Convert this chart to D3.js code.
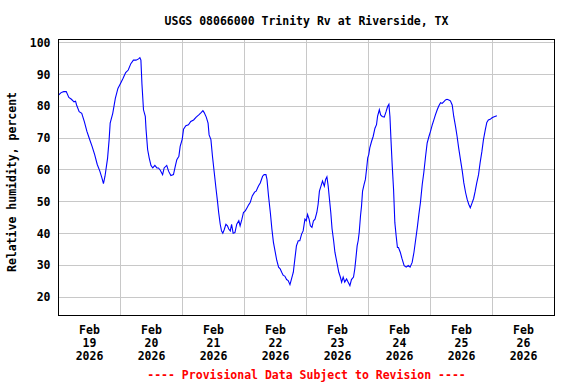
<!DOCTYPE html>
<html>
<head>
<meta charset="utf-8">
<script src="https://cdn.jsdelivr.net/npm/d3@7"></script>
<style>
  body { margin: 0; background: #fff; }
  text { font-family: "DejaVu Sans Mono", monospace; font-weight: bold; font-size: 11.5px; }
</style>
</head>
<body>
<div id="wrapper"></div>
<script>
// hours after Feb 19 2026 00:00 and the reading at that time
const hours = [0, 1, 2, 3, 4, 5, 6, 6.6, 7, 8, 9, 10, 11, 12, 13, 14, 15, 16, 16.8, 17.4, 18, 19, 19.6, 20, 21, 22, 23, 24, 25, 26, 27, 28, 29, 30, 31, 31.5, 31.9, 32.3, 32.9, 33.6, 33.9, 34.5, 35.1, 35.8, 36.5, 37.3, 38.1, 38.7, 39.4, 40.3, 40.9, 41.9, 42.6, 43.5, 44.5, 45.2, 45.8, 46.6, 47.1, 47.9, 48.4, 49.3, 50.3, 51.2, 52.3, 53.3, 54.3, 55.2, 55.9, 56.4, 57.2, 57.9, 58.3, 59, 59.6, 60.3, 61, 61.6, 62, 62.6, 63.1, 63.6, 64.1, 64.8, 65.4, 65.9, 66.5, 67, 67.6, 68.3, 69, 69.8, 70.3, 71, 71.6, 72.3, 73, 73.6, 74.2, 75, 75.9, 76.5, 77.4, 78.1, 79, 79.6, 80.3, 80.7, 81.3, 82, 82.6, 83.2, 83.9, 84.5, 85.2, 85.8, 86.4, 87, 87.6, 88.3, 88.9, 89.6, 90.2, 90.9, 91.5, 92.1, 92.8, 93.4, 94.1, 94.7, 95.4, 95.9, 96.4, 97, 97.5, 98.1, 98.7, 99.3, 100, 100.5, 101, 101.6, 102.2, 102.9, 103.4, 103.9, 104.4, 104.9, 105.4, 105.9, 106.5, 107, 107.5, 108, 108.5, 109.1, 109.6, 110.2, 110.8, 111.5, 112.1, 112.8, 113.4, 114.2, 114.7, 115.1, 115.6, 116, 116.4, 116.9, 117.3, 117.7, 118.3, 118.8, 119.3, 119.7, 120.1, 120.5, 121.2, 121.8, 122.5, 123.1, 123.5, 124.2, 124.7, 125.3, 126.1, 126.8, 127.4, 127.9, 128.3, 128.7, 129.2, 129.7, 130.2, 130.7, 131.2, 131.6, 132.3, 133, 133.8, 134.6, 135.4, 136.1, 136.9, 137.6, 138.2, 138.9, 139.5, 140.1, 140.8, 141.4, 142.1, 142.7, 143.4, 144, 144.7, 145.3, 145.9, 146.6, 147.2, 147.9, 148.5, 149.2, 149.8, 150.4, 151.1, 151.7, 152.4, 153, 153.7, 154.3, 154.9, 155.6, 156.3, 156.9, 157.6, 158.2, 158.8, 159.4, 160, 160.7, 161.3, 161.9, 162.6, 163.2, 163.9, 164.5, 165.2, 165.8, 166.4, 167.1, 167.7, 168.4, 169.7];
const humidity = [83.5, 84.3, 84.6, 84.6, 82.8, 82.2, 81.4, 81.6, 80.4, 78.3, 77.8, 75.2, 72.1, 69.7, 67.4, 64.8, 61.7, 59.6, 57.5, 55.7, 58, 63.7, 69.5, 74.7, 77.8, 82.5, 85.6, 87.2, 88.8, 90.6, 91.4, 93.4, 94.5, 94.5, 94.9, 95.3, 94.5, 87, 78.9, 76.8, 72.6, 66.4, 63.8, 61.4, 60.6, 61.4, 60.6, 60.6, 59.9, 58.5, 60.6, 61.4, 59.6, 58.2, 58.5, 61.1, 63.2, 64.3, 67.4, 69.7, 72.8, 73.9, 74.2, 75.2, 75.7, 76.6, 77.3, 78, 78.6, 78, 76.6, 74.7, 71, 69.5, 64.3, 59.1, 53.9, 49.7, 46.6, 42.9, 40.8, 40.1, 41.1, 42.9, 42.4, 41.4, 40.8, 42.9, 40.1, 40.3, 42.9, 44, 42.4, 44.5, 46.6, 47.1, 48.1, 49, 49.7, 51.8, 53, 53.3, 54.9, 55.9, 58, 58.5, 58.5, 57, 51.8, 46.6, 41.4, 37.2, 34.1, 31.5, 29.4, 28.9, 27.8, 26.8, 26.6, 25.5, 25.2, 23.9, 25.7, 27.8, 32, 36.1, 37.7, 37.7, 39.8, 40.8, 44.5, 44, 46, 44.5, 42.4, 41.9, 44, 44.5, 46.6, 49.2, 53.3, 54.9, 56.5, 54.9, 57, 57.8, 54.9, 50.7, 46.6, 41.4, 37.7, 34.1, 32, 29.9, 27.8, 26.3, 24.7, 26.3, 24.7, 25.7, 24.7, 23.6, 25.5, 26.3, 28.9, 32, 36.1, 37.7, 40.3, 45.5, 48.6, 53.3, 55.4, 57, 60.6, 63.8, 64.8, 66.9, 69, 70.5, 73.1, 74.2, 76.8, 78.9, 77.3, 76.8, 76.6, 78.3, 79.9, 80.6, 76.8, 69.5, 61.1, 53.9, 43.4, 39.3, 35.6, 35.6, 34.1, 32, 29.9, 29.4, 29.9, 29.4, 30.9, 34.1, 37.7, 41.9, 46, 49.7, 55.4, 59.1, 64.3, 68.4, 70.5, 72.1, 74.2, 75.7, 77.3, 78.9, 80.1, 81.1, 80.9, 81.5, 82, 82.2, 82, 81.7, 80.4, 76.8, 73.6, 70.5, 66.9, 63.2, 59.6, 55.9, 52.8, 50.7, 49.2, 48.1, 49.4, 51, 53.3, 55.9, 58.5, 62.2, 65.8, 69.5, 72.6, 74.9, 75.7, 75.9, 76.3, 76.6, 77];
const yTicks = [20, 30, 40, 50, 60, 70, 80, 90, 100];
const titleText = "USGS 08066000 Trinity Rv at Riverside, TX";
const yLabel = "Relative humidity, percent";
const footerText = "---- Provisional Data Subject to Revision ----";

const start = Date.UTC(2026, 1, 19);
const dataset = hours.map((h, i) => ({ date: new Date(start + h * 3600e3), value: humidity[i] }));

const dimensions = {
  width: 576,
  height: 384,
  margin: { top: 39.5, right: 21.5, bottom: 68.5, left: 58.5 },
};
dimensions.boundedWidth = dimensions.width - dimensions.margin.left - dimensions.margin.right;
dimensions.boundedHeight = dimensions.height - dimensions.margin.top - dimensions.margin.bottom;

const wrapper = d3.select("#wrapper")
  .append("svg")
  .attr("width", dimensions.width)
  .attr("height", dimensions.height);

const bounds = wrapper.append("g")
  .attr("transform", `translate(${dimensions.margin.left},${dimensions.margin.top})`);

const xScaler = d3.scaleUtc()
  .domain([new Date(start), new Date(Date.UTC(2026, 1, 27))])
  .range([0, dimensions.boundedWidth]);

const yScaler = d3.scaleLinear()
  .domain([14.2, 101])
  .range([dimensions.boundedHeight, 0]);

// gridlines
const days = d3.utcDay.range(new Date(start), new Date(Date.UTC(2026, 1, 27)));
bounds.append("g").selectAll("line")
  .data(days.slice(1))
  .join("line")
  .attr("x1", d => Math.round(xScaler(d)))
  .attr("x2", d => Math.round(xScaler(d)))
  .attr("y1", 0)
  .attr("y2", dimensions.boundedHeight)
  .attr("stroke", "#c8c8c8")
  .attr("shape-rendering", "crispEdges");

bounds.append("g").selectAll("line")
  .data(yTicks)
  .join("line")
  .attr("x1", 0)
  .attr("x2", dimensions.boundedWidth)
  .attr("y1", d => Math.round(yScaler(d)))
  .attr("y2", d => Math.round(yScaler(d)))
  .attr("stroke", "#c8c8c8")
  .attr("shape-rendering", "crispEdges");

// data line
const lineGen = d3.line()
  .x(d => xScaler(d.date))
  .y(d => yScaler(d.value));

bounds.append("path")
  .datum(dataset)
  .attr("d", lineGen)
  .attr("fill", "none")
  .attr("stroke", "#0000ff")
  .attr("stroke-width", 1.1);

// frame
bounds.append("rect")
  .attr("width", dimensions.boundedWidth)
  .attr("height", dimensions.boundedHeight)
  .attr("fill", "none")
  .attr("stroke", "black")
  .attr("shape-rendering", "crispEdges");

// y tick labels
bounds.append("g").selectAll("text")
  .data(yTicks)
  .join("text")
  .attr("x", -8)
  .attr("y", d => yScaler(d))
  .attr("dy", "0.36em")
  .attr("text-anchor", "end")
  .text(d => d);

// x day labels, centered at noon
const fmtMonth = d3.utcFormat("%b");
const fmtDay = d3.utcFormat("%d");
const fmtYear = d3.utcFormat("%Y");
const dayLabels = bounds.append("g").selectAll("text")
  .data(days)
  .join("text")
  .attr("text-anchor", "middle")
  .attr("transform", d => `translate(${xScaler(d3.utcHour.offset(d, 12))},${dimensions.boundedHeight + 18.5})`);
dayLabels.append("tspan").attr("x", 0).attr("y", 0).text(fmtMonth);
dayLabels.append("tspan").attr("x", 0).attr("y", 13).text(fmtDay);
dayLabels.append("tspan").attr("x", 0).attr("y", 26).text(fmtYear);

wrapper.append("text")
  .attr("x", dimensions.margin.left + dimensions.boundedWidth / 2)
  .attr("y", 24.5)
  .attr("text-anchor", "middle")
  .text(titleText);

wrapper.append("text")
  .attr("transform", `translate(15.5,182) rotate(-90)`)
  .attr("text-anchor", "middle")
  .text(yLabel);

wrapper.append("text")
  .attr("x", dimensions.margin.left + dimensions.boundedWidth / 2)
  .attr("y", 379)
  .attr("text-anchor", "middle")
  .attr("fill", "red")
  .text(footerText);
</script>
</body>
</html>
